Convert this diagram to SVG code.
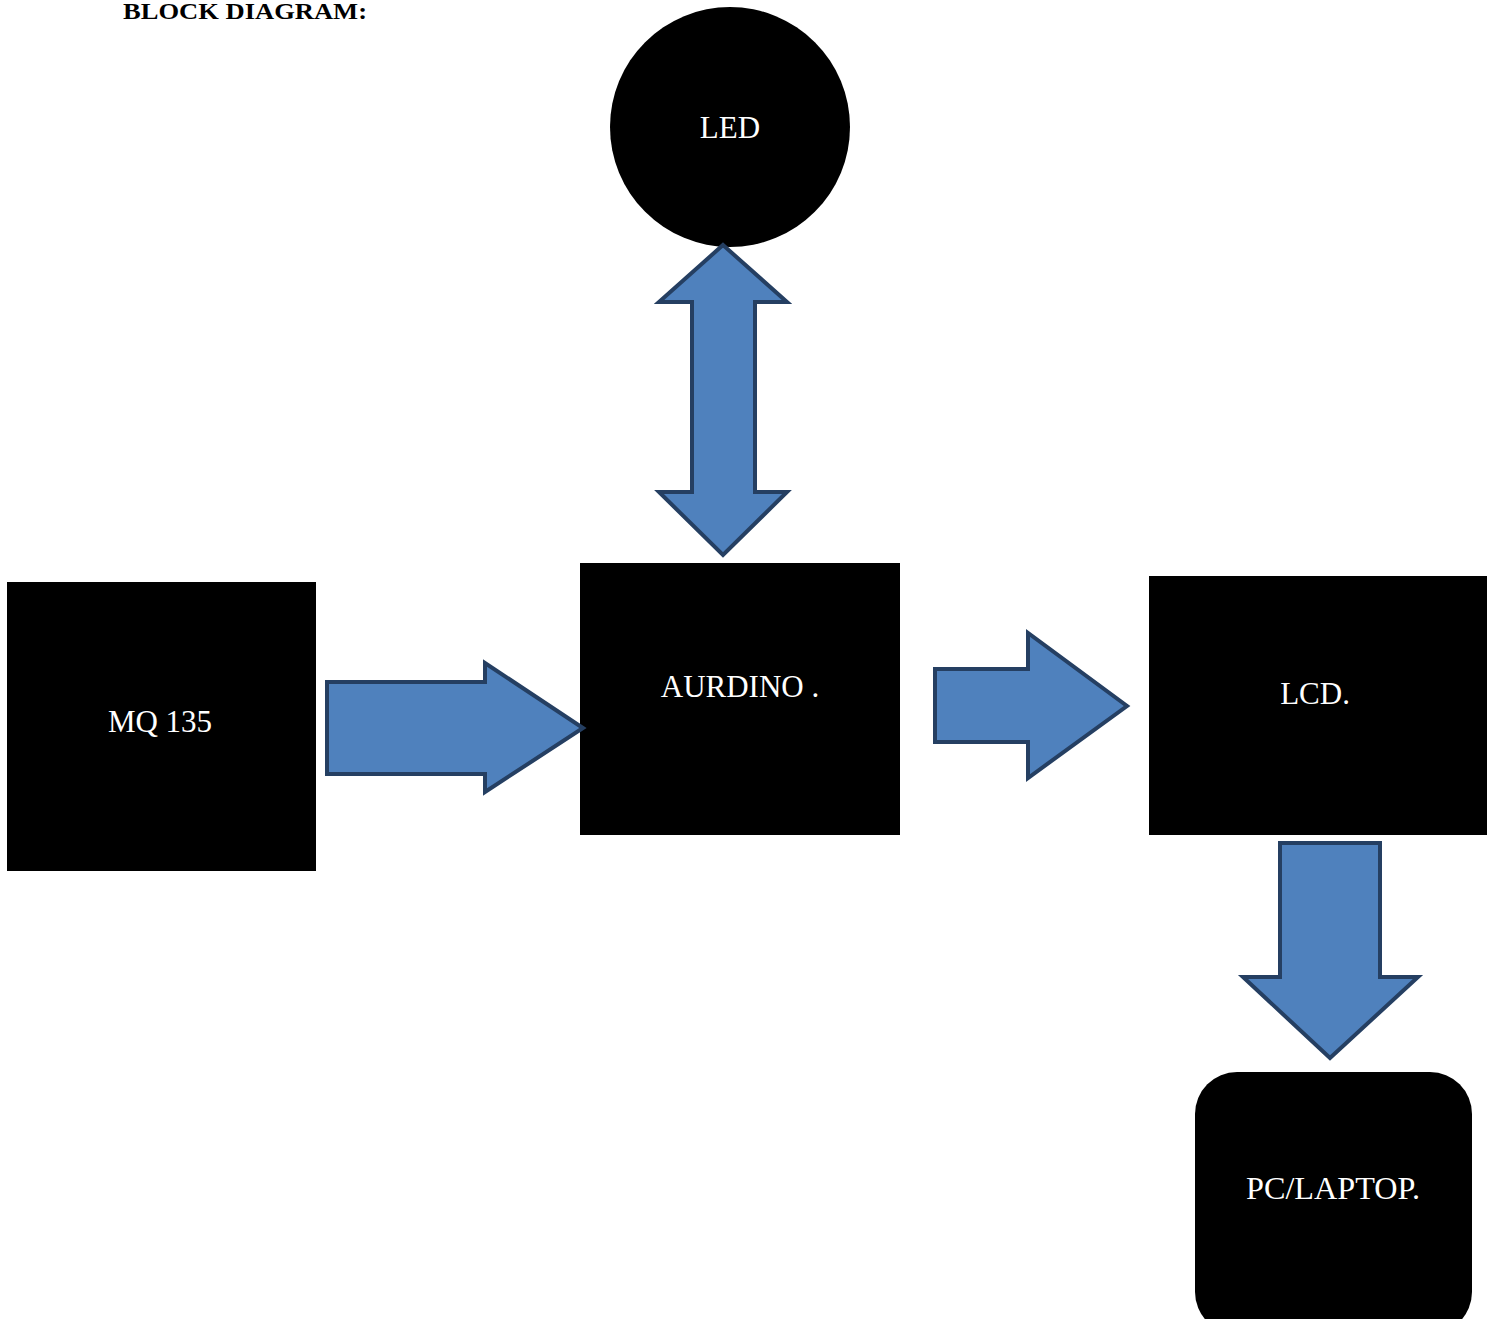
<svg xmlns="http://www.w3.org/2000/svg" width="1495" height="1319" viewBox="0 0 1495 1319">
<style>
.node{fill:#000}
.lbl{font-family:"Liberation Serif","Times New Roman",serif;font-size:31px;fill:#fff;text-anchor:middle}
.arrow{fill:#4F81BD;stroke:#253F62;stroke-width:4;stroke-linejoin:miter}
.title{font-family:"Liberation Serif","Times New Roman",serif;font-size:24px;font-weight:bold;fill:#000}
</style>
<rect width="1495" height="1319" fill="#fff"/>
<text class="title" x="123" y="19" textLength="244" lengthAdjust="spacingAndGlyphs">BLOCK DIAGRAM:</text>
<g id="led">
<circle class="node" cx="730" cy="127" r="120"/>
<text class="lbl" x="730" y="138">LED</text>
</g>
<g id="mq135">
<rect class="node" x="7" y="582" width="309" height="289"/>
<text class="lbl" x="160" y="732">MQ 135</text>
</g>
<g id="aurdino">
<rect class="node" x="580" y="563" width="320" height="272"/>
<text class="lbl" x="740" y="697">AURDINO .</text>
</g>
<g id="lcd">
<rect class="node" x="1149" y="576" width="338" height="259"/>
<text class="lbl" x="1315" y="704">LCD.</text>
</g>
<g id="pc">
<rect class="node" x="1195" y="1072" width="277" height="262" rx="42" ry="42"/>
<text class="lbl" x="1333" y="1199" textLength="174" lengthAdjust="spacingAndGlyphs">PC/LAPTOP.</text>
</g>
<g id="connectors">
<polygon class="arrow" points="723,245 787,302 755,302 755,492 787,492 723,555 659,492 692,492 692,302 659,302"/>
<polygon class="arrow" points="327,682 485,682 485,663 583,728 485,792 485,774 327,774"/>
<polygon class="arrow" points="935,669 1028,669 1028,633 1127,706 1028,778 1028,742 935,742"/>
<polygon class="arrow" points="1280,843 1380,843 1380,977 1418,977 1330,1058 1243,977 1280,977"/>
</g>
</svg>
